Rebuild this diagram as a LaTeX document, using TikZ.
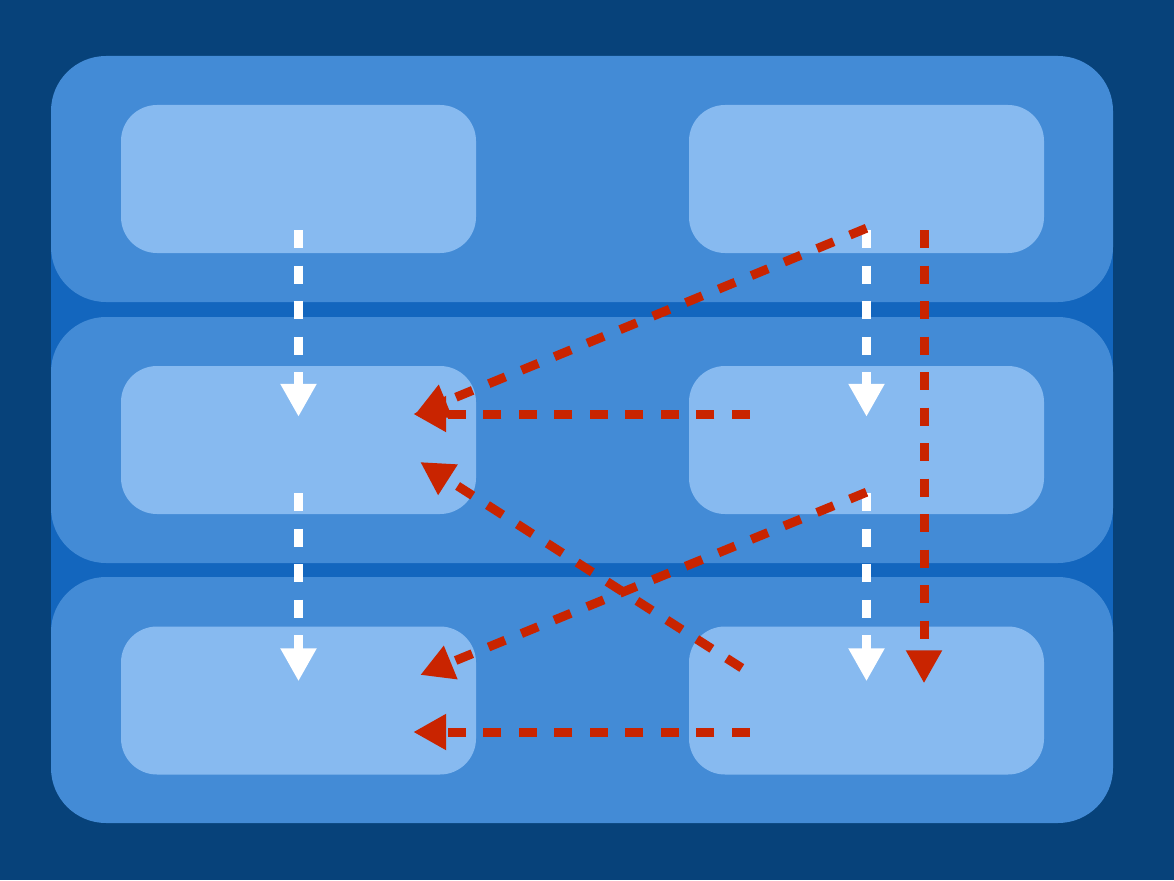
\documentclass[tikz,border=0pt]{standalone}
\usetikzlibrary{arrows.meta}

\definecolor{bgdark}{HTML}{07427A}
\definecolor{bandblue}{HTML}{1366BE}
\definecolor{rowblue}{HTML}{438BD6}
\definecolor{boxblue}{HTML}{87BAF0}
\definecolor{flowred}{HTML}{C92400}

\tikzset{
  rowbox/.style={fill=rowblue, rounded corners=55pt, minimum width=1062pt, minimum height=246pt, inner sep=0pt},
  inbox/.style={fill=boxblue, rounded corners=36pt, minimum width=355pt, minimum height=148pt, inner sep=0pt},
  flow/.style={line width=9pt, dash pattern=on 18pt off 17.5pt, -{Triangle[length=33pt,width=34pt]}},
  whiteflow/.style={flow, white},
  redflow/.style={flow, flowred}
}

\begin{document}
\begin{tikzpicture}[x=1pt, y=-1pt]
            \fill[bgdark] (0,0) rectangle (1174,880);
            \fill[bandblue] (51,250) rectangle (1113,630);

            \node[rowbox] (row1) at (582,179) {};
            \node[rowbox] (row2) at (582,440) {};
            \node[rowbox] (row3) at (582,700) {};

            \node[inbox] (l1) at (298.5,179) {};
            \node[inbox] (r1) at (866.5,179) {};
            \node[inbox] (l2) at (298.5,440) {};
            \node[inbox] (r2) at (866.5,440) {};
            \node[inbox] (l3) at (298.5,700.5) {};
            \node[inbox] (r3) at (866.5,700.5) {};

            % straight down
            \draw[whiteflow] ([yshift=23pt]l1.south) -- ([yshift=-51pt]l2.north);
            \draw[whiteflow] ([yshift=21pt]l2.south) -- ([yshift=-55pt]l3.north);
            \draw[whiteflow] ([yshift=23pt]r1.south) -- ([yshift=-51pt]r2.north);
            \draw[whiteflow] ([yshift=21pt]r2.south) -- ([yshift=-55pt]r3.north);

            % crossing flows
            \draw[redflow] ([xshift=57.5pt,yshift=23pt]r1.south) -- ([xshift=57.5pt,yshift=-57pt]r3.north);
            \draw[redflow] ([yshift=25pt]r1.south) -- ([xshift=-61pt,yshift=26pt]l2.east);
            \draw[redflow] ([xshift=61pt,yshift=26pt]r2.west) -- ([xshift=-63pt,yshift=26pt]l2.east);
            \draw[redflow] ([yshift=22pt]r2.south) -- ([xshift=-56pt,yshift=25.5pt]l3.east);
            \draw[redflow] ([xshift=53pt,yshift=32.5pt]r3.west) -- ([xshift=-56pt,yshift=-22pt]l2.east);
            \draw[redflow] ([xshift=61pt,yshift=-31.5pt]r3.west) -- ([xshift=-63pt,yshift=-31.5pt]l3.east);
\end{tikzpicture}
\end{document}
